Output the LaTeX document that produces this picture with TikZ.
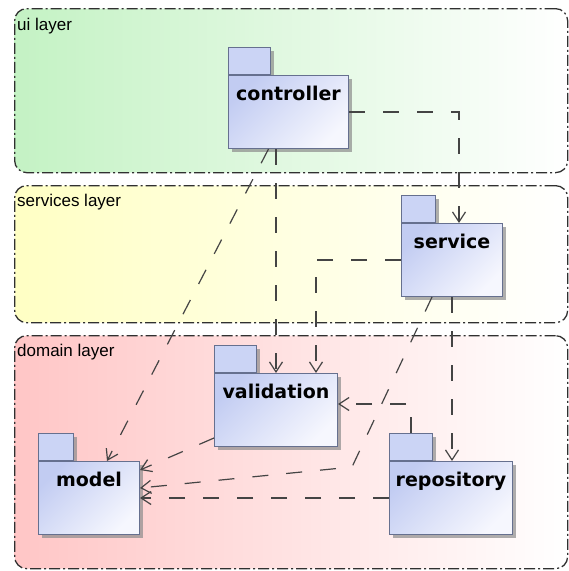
\documentclass[tikz,border=0pt]{standalone}
\usepackage{fontspec}
\setmainfont{Liberation Sans}
\newfontfamily\pkgfont{DejaVu Sans}
\usetikzlibrary{arrows.meta,shadows,positioning}

\definecolor{uigreen}{HTML}{C4F2C4}
\definecolor{svcyellow}{HTML}{FFFFC4}
\definecolor{dompink}{HTML}{FFC6C6}
\definecolor{layerline}{HTML}{303030}
\definecolor{pkgline}{HTML}{66708F}
\definecolor{pkgtop}{HTML}{C2CCF2}
\definecolor{pkgbot}{HTML}{F6F7FE}
\definecolor{tabfill}{HTML}{CBD4F5}
\definecolor{depline}{HTML}{444444}

\begin{document}
\begin{tikzpicture}[x=1pt,y=-1pt,
  layer/.style={draw=layerline,line width=1.3pt,
    dash pattern=on 11pt off 3pt on 2pt off 3pt,
    rounded corners=12pt,anchor=north west,inner sep=0pt,right color=white},
  layer text/.style={font=\fontsize{17}{17}\selectfont,anchor=base west,inner sep=0pt},
  pkg shadow/.style={drop shadow={shadow xshift=3pt,shadow yshift=-3pt,fill=black!45,opacity=.7}},
  pkg/.style={draw=pkgline,line width=1pt,top color=pkgtop,bottom color=pkgbot,
    shading angle=45,anchor=north west,minimum height=73pt,
    inner xsep=2pt,inner ysep=3pt,text height=22pt,text depth=45pt,
    font=\pkgfont\bfseries\fontsize{19}{19}\selectfont,pkg shadow},
  pkg tab/.style={draw=pkgline,line width=1pt,fill=tabfill,anchor=south west,
    minimum height=27pt,inner sep=0pt,pkg shadow},
  dep/.style={draw=depline,line width=1.2pt,dash pattern=on 16pt off 18pt,
    -{Straight Barb[length=10pt,width=13pt]}},
  hv/.style={to path={-| (\tikztotarget)}},
  vh/.style={to path={|- (\tikztotarget)}}]

  \useasboundingbox (0,0) rectangle (569,571);

  % layers
  \node[layer,left color=uigreen,minimum width=553pt,minimum height=164pt] (ui) at (14,8) {};
  \node[layer,left color=svcyellow,minimum width=553pt,minimum height=137pt] (services) at (14,185) {};
  \node[layer,left color=dompink,minimum width=553pt,minimum height=233pt] (domain) at (14,335) {};

  \node[layer text] (ui label) at ([xshift=3pt,yshift=-22pt]ui.north west) {ui layer};
  \node[layer text] (services label) at ([xshift=3pt,yshift=-21pt]services.north west) {services layer};
  \node[layer text] (domain label) at ([xshift=3pt,yshift=-21pt]domain.north west) {domain layer};

  % packages
  \node[pkg tab,minimum width=42pt] (controller tab) at (228,75) {};
  \node[pkg,minimum width=120pt] (controller) at (controller tab.south west) {controller};

  \node[pkg tab,minimum width=34pt] (service tab) at (401,223) {};
  \node[pkg,minimum width=101pt] (service) at (service tab.south west) {service};

  \node[pkg tab,minimum width=42pt] (validation tab) at (214,373) {};
  \node[pkg,minimum width=123pt] (validation) at (validation tab.south west) {validation};

  \node[pkg tab,minimum width=35pt] (model tab) at (38,461) {};
  \node[pkg,minimum width=101pt] (model) at (model tab.south west) {model};

  \node[pkg tab,minimum width=43pt] (repository tab) at (389,461) {};
  \node[pkg,minimum width=123pt] (repository) at (repository tab.south west) {repository};

  \coordinate (service bend) at (352,467);

  % dependencies
  \path[every edge/.style=dep]
   (controller.east) edge[hv] ([xshift=7pt]service.north)
   (validation.north |- controller.south) edge (validation.north)
   ([xshift=-20pt]controller.south) edge ([xshift=18pt]model.north)
   (service.west) edge[hv] ([xshift=40pt]validation.north)
   (service.south) edge (service.south |- repository.north)
   ([xshift=-20pt]service.south) edge[to path={-- (service bend) -- (\tikztotarget)}] ([yshift=10pt]model.east)
   ([yshift=-28pt]validation.west) edge ([yshift=28pt]model.east)
   (repository tab.north) edge[vh] ([yshift=6pt]validation.east)
   (repository.west) edge (model.east);
\end{tikzpicture}
\end{document}
